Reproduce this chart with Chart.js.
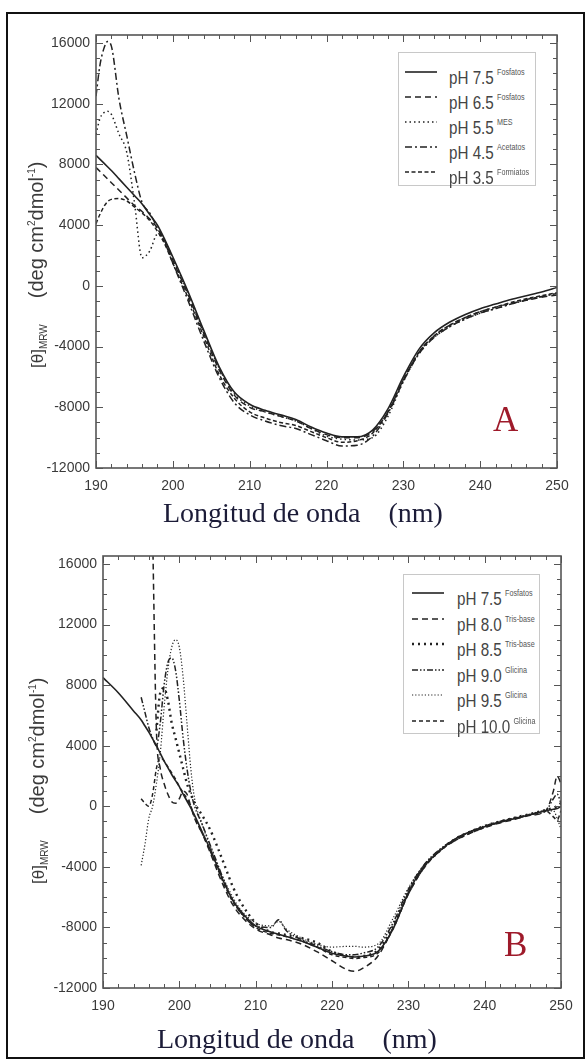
<!DOCTYPE html>
<html>
<head>
<meta charset="utf-8">
<script src="https://cdn.jsdelivr.net/npm/chart.js@4.4.0/dist/chart.umd.min.js"></script>
<style>
    html, body { margin: 0; padding: 0; background: #fff; }
    #page { position: relative; width: 586px; height: 1061px; overflow: hidden; font-family: "Liberation Sans", Arial, sans-serif; }
    #frame { position: absolute; left: 6px; top: 12px; width: 575px; height: 1043px; border: 2px solid #111; }
    .wrap { position: absolute; left: 0; width: 586px; }
    #wrapA { top: 0; height: 500px; }
    #wrapB { top: 530px; height: 520px; }
    .ytitle { position: absolute; white-space: nowrap; transform: rotate(-90deg); transform-origin: 0 0; line-height: 20px; color: #3a3a3a; }
    .ytitle .sym { font-size: 17px; }
    .ytitle .unit { font-size: 20px; margin-left: 26px; }
    .ytitle sub, .ytitle sup { font-size: 10px; }
    .xtitle { position: absolute; font-family: "Liberation Serif", "Times New Roman", serif; font-size: 28px; color: #1c1c38; white-space: pre; }
    .tag { position: absolute; font-family: "Liberation Serif", "Times New Roman", serif; font-size: 35px; line-height: 35px; color: #9e1a2a; }
    .legend { position: absolute; border: 1px solid #c8c8c8; background: #fff; }
    .row { position: absolute; height: 20px; white-space: nowrap; }
    .row svg { position: absolute; left: 0; top: 5px; }
    .row .txt { position: absolute; top: 0; font-size: 19px; line-height: 20px; color: #444; transform: scaleX(0.8); transform-origin: 0 50%; }
    .row .buf { font-size: 9px; vertical-align: 9px; margin-left: 4px; color: #555; }
</style>
</head>
<body>
<div id="page">
    <div id="frame"></div>
    <div class="wrap" id="wrapA"><canvas id="chartA" width="586" height="500"></canvas></div>
    <div class="wrap" id="wrapB"><canvas id="chartB" width="586" height="520"></canvas></div>

    <div class="ytitle" style="left:22px; top:368px;"><span class="sym">[θ]<sub>MRW</sub></span><span class="unit">(deg cm<sup>2</sup>dmol<sup>-1</sup>)</span></div>
    <div class="ytitle" style="left:23px; top:884px;"><span class="sym">[θ]<sub>MRW</sub></span><span class="unit">(deg cm<sup>2</sup>dmol<sup>-1</sup>)</span></div>

    <div class="xtitle" style="left:163px; top:497px;">Longitud de onda    (nm)</div>
    <div class="xtitle" style="left:157px; top:1023px;">Longitud de onda    (nm)</div>

    <div class="tag" style="left:493px; top:402px;">A</div>
    <div class="tag" style="left:504px; top:927px;">B</div>

    <div class="legend" id="legA" style="left:398px; top:52px; width:136px; height:132px;"></div>
    <div class="legend" id="legB" style="left:403px; top:574px; width:135px; height:158px;"></div>
</div>

<script>
// ---- Panel A (pH 3.5 - 7.5) ----
const wlA = [190, 190.5, 191, 191.5, 192, 193, 194, 195, 196, 197, 198, 199, 200,
    202, 204, 206, 208, 210, 212, 214, 216, 218, 220, 222, 224, 226, 228,
    230, 232, 234, 236, 238, 240, 242, 244, 246, 248, 250];

const a_ph75 = [8600, 8350, 8100, 7850, 7600, 7050, 6500, 5950, 5400, 4700, 4000, 3000, 1900,
    -400, -2900, -5300, -7000, -7800, -8200, -8500, -8800, -9300, -9700, -9950, -9950, -9500, -8100,
    -6000, -4200, -3100, -2400, -1900, -1500, -1200, -900, -650, -400, -100];
const a_ph65 = [7800, 7550, 7300, 7050, 6800, 6300, 5800, 5300, 4900, 4400, 3800, 2900, 1700,
    -600, -3100, -5500, -7200, -8000, -8300, -8600, -8900, -9400, -9800, -10000, -10000, -9600, -8300,
    -6200, -4400, -3300, -2600, -2100, -1700, -1400, -1150, -950, -750, -600];
const a_ph55 = [10000, 11000, 11400, 11500, 11300, 10000, 8800, 5500, 1850, 2300, 3400, 2900, 1800,
    -500, -3000, -5400, -7100, -7900, -8300, -8600, -8900, -9400, -9900, -10100, -10150, -10000, -8600,
    -6300, -4500, -3400, -2700, -2200, -1800, -1500, -1200, -950, -700, -500];
const a_ph45 = [12500, 14500, 15600, 16100, 15800, 12300, 9900, 7500, 5500, 4800, 3800, 2800, 1500,
    -1000, -3600, -6000, -7700, -8500, -8900, -9200, -9400, -9800, -10200, -10550, -10500, -9900, -8400,
    -6300, -4500, -3400, -2700, -2200, -1800, -1500, -1200, -900, -700, -500];
const a_ph35 = [4100, 4700, 5200, 5550, 5700, 5750, 5600, 5200, 4800, 4300, 3600, 2700, 1500,
    -800, -3300, -5800, -7400, -8300, -8700, -9000, -9200, -9600, -10000, -10300, -10200, -9700, -8300,
    -6200, -4400, -3300, -2600, -2100, -1700, -1400, -1100, -850, -650, -450];

const labelsA = ['pH 7.5', 'pH 6.5', 'pH 5.5', 'pH 4.5', 'pH 3.5'];
const buffersA = ['Fosfatos', 'Fosfatos', 'MES', 'Acetatos', 'Formiatos'];

// ---- Panel B (pH 7.5 - 10.0) ----
const wlB = [190, 192, 194, 195, 195.5, 196, 196.5, 197, 197.5, 198, 198.5, 199, 199.5, 200,
    200.5, 201, 201.5, 202, 203, 204, 205, 206, 207, 208, 210, 212, 213, 214, 216, 218,
    220, 222, 223, 224, 226, 228, 230, 232, 234, 236, 238, 240, 242, 244, 246, 248, 249, 249.5, 250];

const b_ph75 = [8500, 7500, 6300, 5700, 5300, 4900, 4450, 4000, 3500, 3000, 2550, 2100, 1700, 1300,
    800, 350, -100, -600, -1700, -2800, -4000, -5200, -6200, -6900, -7900, -8300, -8450, -8600, -8900, -9300,
    -9700, -9900, -9950, -9900, -9600, -8100, -5700, -4000, -3000, -2200, -1700, -1350, -1050, -800, -550, -300, -200, -150, 0];
const b_ph80 = [null, null, null, null, null, null, 18000, 5000, 2500, 1500, 800, 300, 200, 500,
    1000, 800, 0, -800, -1800, -3000, -4300, -5500, -6500, -7200, -8100, -8500, -8700, -8800, -9100, -9600,
    -10200, -10800, -10900, -10700, -9900, -8000, -5800, -4100, -3000, -2300, -1800, -1400, -1100, -850, -600, -300, 1000, 2000, 1500];
const b_ph85 = [null, null, null, null, null, null, null, 5000, 7500, 7800, 7000, 5500, 4500, 3500,
    2500, 1500, 800, 200, -600, -1500, -2700, -4000, -5300, -6300, -7700, -8300, -8400, -8500, -8700, -9000,
    -9600, -9900, -9950, -9900, -9500, -7900, -5700, -4000, -3000, -2200, -1700, -1300, -1000, -750, -500, -250, -100, 0, 200];
const b_ph90 = [null, null, null, 7200, 6200, 5200, 4500, 4000, 5500, 8000, 9500, 9800, 9000, 7000,
    4500, 2500, 1000, 0, -1200, -2500, -3800, -5100, -6200, -7000, -7900, -8000, -7500, -8200, -8800, -9200,
    -9600, -9800, -9800, -9700, -9300, -7700, -5500, -3900, -2900, -2200, -1700, -1300, -1000, -800, -550, -300, 500, 800, 200];
const b_ph95 = [null, null, null, -3900, -2500, -800, 0, 1500, 3500, 6500, 9000, 10500, 11000, 10500,
    8500, 5500, 2500, 500, -1200, -2600, -3900, -5000, -6000, -6800, -7700, -7900, -7600, -8100, -8700, -9100,
    -9300, -9250, -9250, -9300, -9100, -7400, -5400, -3900, -2900, -2200, -1700, -1300, -1000, -750, -500, -300, -300, -800, -1500];
const b_ph100 = [null, null, null, 500, 200, 0, 800, 2500, 3200, 3000, 2600, 2200, 1800, 1300,
    900, 500, 0, -700, -1800, -2900, -4100, -5300, -6300, -7000, -8000, -8400, -8500, -8600, -8900, -9300,
    -9800, -10000, -10050, -10000, -9700, -8100, -5800, -4100, -3000, -2300, -1800, -1400, -1050, -800, -550, -300, -700, -900, -300];

const labelsB = ['pH 7.5', 'pH 8.0', 'pH 8.5', 'pH 9.0', 'pH 9.5', 'pH 10.0'];
const buffersB = ['Fosfatos', 'Tris-base', 'Tris-base', 'Glicina', 'Glicina', 'Glicina'];

// axis ranges and tick labels
const xTicks = [190, 200, 210, 220, 230, 240, 250];
const yTicks = [-12000, -8000, -4000, 0, 4000, 8000, 12000, 16000];
const xMin = 190, xMax = 250, xMinor = 2;
const yMin = -12000, yMax = 16530, yMinor = 1000;

// line styles (same order as legends)
const stylesA = [
    { dash: [], width: 1.6 },
    { dash: [6, 4], width: 1.5 },
    { dash: [1.5, 3], width: 1.5 },
    { dash: [7, 3, 2, 3], width: 1.5 },
    { dash: [4, 2.5], width: 1.5 },
];
const stylesB = [
    { dash: [], width: 1.6 },
    { dash: [6, 4], width: 1.5 },
    { dash: [2, 4], width: 2.4 },
    { dash: [6, 2, 1.5, 2, 1.5, 2], width: 1.5 },
    { dash: [1.2, 2], width: 1.2 },
    { dash: [4, 3], width: 1.5 },
];

const lineColor = '#222';
const tickColor = '#3a3a3a';

// 枠と内向きの目盛り
const frameTicks = {
    id: 'frameTicks',
    afterDatasetsDraw(chart) {
        const { ctx, chartArea: a, scales: { x, y } } = chart;
        ctx.save();
        ctx.strokeStyle = '#555';
        ctx.lineWidth = 1;
        ctx.setLineDash([]);
        ctx.beginPath();
        for (let v = xMin; v <= xMax; v += xMinor) {
            const px = Math.round(x.getPixelForValue(v)) + 0.5;
            const len = xTicks.includes(v) ? 7 : 4;
            ctx.moveTo(px, a.bottom); ctx.lineTo(px, a.bottom - len);
            ctx.moveTo(px, a.top); ctx.lineTo(px, a.top + len);
        }
        for (let v = yMin; v <= yMax; v += yMinor) {
            const py = Math.round(y.getPixelForValue(v)) + 0.5;
            const len = yTicks.includes(v) ? 7 : 4;
            ctx.moveTo(a.left, py); ctx.lineTo(a.left + len, py);
            ctx.moveTo(a.right, py); ctx.lineTo(a.right - len, py);
        }
        ctx.stroke();
        ctx.lineWidth = 1.6;
        ctx.strokeRect(a.left, a.top, a.right - a.left, a.bottom - a.top);
        ctx.restore();
    },
};

function makeDatasets(wl, seriesList, styles, labels) {
    return seriesList.map((vals, i) => ({
        label: labels[i],
        data: wl.map((x, j) => ({ x, y: vals[j] })),
        borderColor: lineColor,
        borderWidth: styles[i].width,
        borderDash: styles[i].dash,
        pointRadius: 0,
        fill: false,
        spanGaps: false,
        cubicInterpolationMode: 'monotone',
    }));
}

function createChart(canvasId, datasets, pad, yWidth, xHeight) {
    const tickFont = { family: '"Liberation Sans", Arial, sans-serif', size: 14 };
    new Chart(document.getElementById(canvasId).getContext('2d'), {
        type: 'line',
        data: { datasets },
        options: {
            responsive: false,
            animation: false,
            layout: { padding: pad },
            plugins: { legend: { display: false }, tooltip: { enabled: false } },
            scales: {
                x: {
                    type: 'linear', min: xMin, max: xMax,
                    afterBuildTicks(s) { s.ticks = xTicks.map(value => ({ value })); },
                    afterFit(s) { s.height = xHeight; },
                    grid: { display: false, drawTicks: false },
                    border: { display: false },
                    ticks: { padding: 10, color: tickColor, font: tickFont, maxRotation: 0, autoSkip: false, callback: v => String(v) },
                },
                y: {
                    type: 'linear', min: yMin, max: yMax,
                    afterBuildTicks(s) { s.ticks = yTicks.map(value => ({ value })); },
                    afterFit(s) { s.width = yWidth; },
                    grid: { display: false, drawTicks: false },
                    border: { display: false },
                    ticks: { padding: 6, color: tickColor, font: tickFont, autoSkip: false, callback: v => String(v) },
                },
            },
        },
        plugins: [frameTicks],
    });
}

function buildLegend(id, labels, buffers, styles, sampleX, textX, firstY, gap) {
    const box = document.getElementById(id);
    box.innerHTML = labels.map((label, i) => {
        const s = styles[i];
        return `<div class="row" style="left:${sampleX}px; top:${firstY + gap * i - 10}px;">
            <svg width="34" height="10"><line x1="0" y1="5" x2="32" y2="5" stroke="${lineColor}" stroke-width="${s.width}" stroke-dasharray="${s.dash.join(' ')}"/></svg>
            <span class="txt" style="left:${textX}px;">${label}<span class="buf">${buffers[i]}</span></span>
        </div>`;
    }).join('');
}

createChart('chartA', makeDatasets(wlA, [a_ph75, a_ph65, a_ph55, a_ph45, a_ph35], stylesA, labelsA),
    { top: 35, right: 29, left: 0, bottom: 0 }, 96, 32);
createChart('chartB', makeDatasets(wlB, [b_ph75, b_ph80, b_ph85, b_ph90, b_ph95, b_ph100], stylesB, labelsB),
    { top: 26, right: 25, left: 0, bottom: 0 }, 103, 62);

buildLegend('legA', labelsA, buffersA, stylesA, 6, 44, 19, 25);
buildLegend('legB', labelsB, buffersB, stylesB, 8, 45, 18, 25.5);
</script>
</body>
</html>
